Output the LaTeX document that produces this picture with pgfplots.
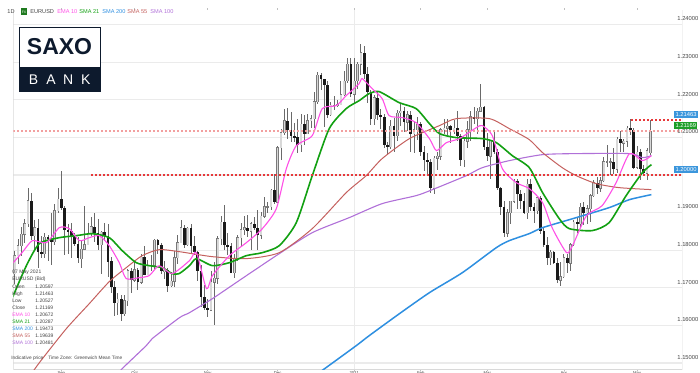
\documentclass[border=0pt]{standalone}
\usepackage{fontspec}
\setmainfont{Liberation Sans}
\usepackage{pgfplots}
\usepackage{pgfplotstable}
\pgfplotsset{compat=1.18}

\definecolor{emac}{HTML}{FF4FE6}
\definecolor{sma21c}{HTML}{12A012}
\definecolor{sma200c}{HTML}{2E8FE0}
\definecolor{sma55c}{HTML}{C4605E}
\definecolor{sma100c}{HTML}{B070D8}
\definecolor{bullfill}{HTML}{D8D8D8}
\definecolor{bulledge}{HTML}{7A7A7A}
\definecolor{bearc}{HTML}{1A1A1A}
\definecolor{wickc}{HTML}{6A6A6A}
\definecolor{gridc}{HTML}{EBEBEB}
\definecolor{txtc}{HTML}{444444}
\definecolor{saxonavy}{HTML}{0D1A2D}
\definecolor{lblblue}{HTML}{3B96DC}
\definecolor{lblgreen}{HTML}{1E9E28}
\definecolor{reddot}{HTML}{E8383A}
\definecolor{pinkdot}{HTML}{F2A0A0}
\definecolor{fxgreen}{HTML}{1F7A1F}

\newcommand{\tkf}{\fontsize{2.9}{3.4}\selectfont}
\newcommand{\lgf}{\fontsize{2.8}{3.3}\selectfont}
\newcommand{\infofont}{\fontsize{2.5}{3}\selectfont}
\newcommand{\btf}{\fontsize{2.4}{2.9}\selectfont}

% index: 0 = 4 Jan 2021 ; columns: open high low close
\pgfplotstableread{
x o h l c
-102 1.1738 1.1799 1.1711 1.1785
-101 1.1785 1.1829 1.1762 1.1812
-100 1.1812 1.1861 1.1784 1.1842
-99 1.1842 1.1883 1.1820 1.1870
-98 1.1870 1.1966 1.1862 1.1931
-97 1.1931 1.1951 1.1828 1.1838
-96 1.1838 1.1880 1.1800 1.1860
-95 1.1860 1.1884 1.1753 1.1795
-94 1.1795 1.1837 1.1780 1.1790
-93 1.1790 1.1845 1.1779 1.1835
-92 1.1835 1.1840 1.1772 1.1830
-91 1.1830 1.1900 1.1762 1.1822
-90 1.1822 1.1922 1.1814 1.1905
-89 1.1905 1.1966 1.1899 1.1935
-88 1.1935 1.2011 1.1906 1.1913
-87 1.1913 1.1917 1.1788 1.1855
-86 1.1855 1.1870 1.1789 1.1850
-85 1.1850 1.1873 1.1780 1.1838
-84 1.1838 1.1846 1.1810 1.1817
-83 1.1817 1.1834 1.1765 1.1778
-82 1.1778 1.1826 1.1753 1.1802
-81 1.1802 1.1917 1.1801 1.1815
-80 1.1815 1.1872 1.1813 1.1845
-79 1.1845 1.1888 1.1838 1.1862
-78 1.1862 1.1900 1.1822 1.1845
-77 1.1845 1.1883 1.1800 1.1815
-76 1.1815 1.1850 1.1737 1.1848
-75 1.1848 1.1872 1.1825 1.1838
-74 1.1838 1.1869 1.1730 1.1770
-73 1.1770 1.1782 1.1685 1.1702
-72 1.1702 1.1718 1.1626 1.1660
-71 1.1660 1.1687 1.1627 1.1670
-70 1.1670 1.1681 1.1612 1.1631
-69 1.1631 1.1682 1.1625 1.1665
-68 1.1665 1.1750 1.1653 1.1745
-67 1.1745 1.1754 1.1685 1.1720
-66 1.1720 1.1770 1.1715 1.1748
-65 1.1748 1.1752 1.1695 1.1715
-64 1.1715 1.1791 1.1709 1.1782
-63 1.1782 1.1810 1.1735 1.1735
-62 1.1735 1.1774 1.1735 1.1760
-61 1.1760 1.1787 1.1745 1.1760
-60 1.1760 1.1831 1.1750 1.1826
-59 1.1826 1.1830 1.1790 1.1815
-58 1.1815 1.1820 1.1737 1.1745
-57 1.1745 1.1772 1.1723 1.1747
-56 1.1747 1.1753 1.1689 1.1706
-55 1.1706 1.1741 1.1702 1.1718
-54 1.1718 1.1797 1.1703 1.1780
-53 1.1780 1.1840 1.1763 1.1820
-52 1.1820 1.1881 1.1818 1.1860
-51 1.1860 1.1867 1.1805 1.1815
-50 1.1815 1.1861 1.1812 1.1859
-49 1.1859 1.1870 1.1790 1.1812
-48 1.1812 1.1838 1.1786 1.1795
-47 1.1795 1.1797 1.1718 1.1745
-46 1.1745 1.1761 1.1650 1.1675
-45 1.1675 1.1707 1.1640 1.1645
-44 1.1645 1.1671 1.1622 1.1640
-43 1.1640 1.1746 1.1638 1.1715
-42 1.1715 1.1769 1.1602 1.1725
-41 1.1725 1.1839 1.1710 1.1830
-40 1.1830 1.1891 1.1813 1.1875
-39 1.1875 1.1920 1.1801 1.1815
-38 1.1815 1.1846 1.1786 1.1810
-37 1.1810 1.1820 1.1745 1.1740
-36 1.1740 1.1790 1.1725 1.1777
-35 1.1777 1.1840 1.1770 1.1833
-34 1.1833 1.1873 1.1808 1.1855
-33 1.1855 1.1890 1.1840 1.1860
-32 1.1860 1.1893 1.1836 1.1850
-31 1.1850 1.1875 1.1800 1.1870
-30 1.1870 1.1889 1.1854 1.1860
-29 1.1860 1.1906 1.1801 1.1840
-28 1.1840 1.1901 1.1829 1.1890
-27 1.1890 1.1942 1.1886 1.1915
-26 1.1915 1.1929 1.1898 1.1915
-25 1.1915 1.1964 1.1906 1.1960
-24 1.1960 1.2004 1.1924 1.1928
-23 1.1928 1.2078 1.1925 1.2072
-22 1.2072 1.2122 1.2040 1.2112
-21 1.2112 1.2176 1.2106 1.2145
-20 1.2145 1.2177 1.2095 1.2120
-19 1.2120 1.2167 1.2088 1.2105
-18 1.2105 1.2138 1.2088 1.2100
-17 1.2100 1.2148 1.2058 1.2080
-16 1.2080 1.2163 1.2060 1.2135
-15 1.2135 1.2160 1.2081 1.2110
-14 1.2110 1.2163 1.2110 1.2145
-13 1.2145 1.2160 1.2125 1.2150
-12 1.2150 1.2221 1.2126 1.2195
-11 1.2195 1.2273 1.2190 1.2265
-10 1.2265 1.2272 1.2227 1.2255
-9 1.2255 1.2256 1.2129 1.2240
-8 1.2240 1.2250 1.2152 1.2160
-7 1.2160 1.2195 1.2156 1.2185
-6 1.2185 1.2210 1.2173 1.2185
-5 1.2185 1.2200 1.2180 1.2187
-4 1.2187 1.2250 1.2185 1.2213
-3 1.2213 1.2276 1.2209 1.2250
-2 1.2250 1.2311 1.2244 1.2295
-1 1.2295 1.2310 1.2208 1.2215
0 1.2215 1.2310 1.2190 1.2250
1 1.2250 1.2301 1.2228 1.2295
2 1.2295 1.2349 1.2265 1.2325
3 1.2325 1.2342 1.2255 1.2270
4 1.2270 1.2288 1.2192 1.2220
5 1.2220 1.2226 1.2133 1.2150
6 1.2150 1.2214 1.2132 1.2205
7 1.2205 1.2220 1.2147 1.2160
8 1.2160 1.2175 1.2123 1.2155
9 1.2155 1.2162 1.2071 1.2080
10 1.2080 1.2089 1.2054 1.2075
11 1.2075 1.2145 1.2069 1.2130
12 1.2130 1.2152 1.2062 1.2105
13 1.2105 1.2173 1.2090 1.2165
14 1.2165 1.2190 1.2130 1.2170
15 1.2170 1.2180 1.2115 1.2140
16 1.2140 1.2170 1.2118 1.2160
17 1.2160 1.2170 1.2060 1.2110
18 1.2110 1.2141 1.2058 1.2120
19 1.2120 1.2155 1.2094 1.2135
20 1.2135 1.2140 1.2050 1.2060
21 1.2060 1.2076 1.2010 1.2040
22 1.2040 1.2059 1.2003 1.2035
23 1.2035 1.2042 1.1953 1.1965
24 1.1965 1.2050 1.1950 1.2045
25 1.2045 1.2060 1.2012 1.2050
26 1.2050 1.2126 1.2039 1.2120
27 1.2120 1.2150 1.2109 1.2125
28 1.2125 1.2150 1.2106 1.2130
29 1.2130 1.2134 1.2084 1.2120
30 1.2120 1.2146 1.2110 1.2125
31 1.2125 1.2169 1.2090 1.2105
32 1.2105 1.2109 1.2023 1.2040
33 1.2040 1.2098 1.2022 1.2090
34 1.2090 1.2143 1.2072 1.2120
35 1.2120 1.2169 1.2090 1.2155
36 1.2155 1.2180 1.2135 1.2150
37 1.2150 1.2178 1.2110 1.2170
38 1.2170 1.2243 1.2167 1.2180
39 1.2180 1.2183 1.2066 1.2075
40 1.2075 1.2113 1.2037 1.2050
41 1.2050 1.2093 1.1990 1.2090
42 1.2090 1.2114 1.2055 1.2060
43 1.2060 1.2068 1.1960 1.1965
44 1.1965 1.1968 1.1893 1.1915
45 1.1915 1.1931 1.1836 1.1845
46 1.1845 1.1910 1.1835 1.1900
47 1.1900 1.1929 1.1870 1.1930
48 1.1930 1.1990 1.1925 1.1985
49 1.1985 1.1990 1.1910 1.1950
50 1.1950 1.1960 1.1911 1.1930
51 1.1930 1.1952 1.1897 1.1900
52 1.1900 1.1989 1.1883 1.1975
53 1.1975 1.1990 1.1904 1.1915
54 1.1915 1.1925 1.1873 1.1905
55 1.1905 1.1942 1.1895 1.1940
56 1.1940 1.1944 1.1843 1.1850
57 1.1850 1.1858 1.1809 1.1815
58 1.1815 1.1836 1.1762 1.1780
59 1.1780 1.1800 1.1760 1.1795
60 1.1795 1.1799 1.1763 1.1765
61 1.1765 1.1780 1.1713 1.1720
62 1.1720 1.1770 1.1704 1.1730
63 1.1730 1.1790 1.1725 1.1780
64 1.1780 1.1790 1.1740 1.1765
65 1.1765 1.1820 1.1745 1.1815
66 1.1815 1.1880 1.1810 1.1875
67 1.1875 1.1888 1.1846 1.1870
68 1.1870 1.1925 1.1860 1.1915
69 1.1915 1.1927 1.1868 1.1900
70 1.1900 1.1920 1.1871 1.1910
71 1.1910 1.1950 1.1875 1.1945
72 1.1945 1.1987 1.1942 1.1980
73 1.1980 1.1995 1.1950 1.1965
74 1.1965 1.1994 1.1955 1.1985
75 1.1985 1.2048 1.1982 1.2035
76 1.2035 1.2080 1.2021 1.2035
77 1.2035 1.2046 1.2000 1.2035
78 1.2035 1.2071 1.2002 1.2015
79 1.2015 1.2100 1.2006 1.2095
80 1.2095 1.2117 1.2060 1.2085
81 1.2085 1.2096 1.2060 1.2090
82 1.2090 1.2130 1.2074 1.2125
83 1.2125 1.2150 1.2107 1.2120
84 1.2120 1.2125 1.2015 1.2020
85 1.2020 1.2077 1.2015 1.2060
86 1.2060 1.2069 1.1986 1.2015
87 1.2015 1.2027 1.1998 1.2005
88 1.2005 1.2072 1.1986 1.2065
89 1.20597 1.21463 1.20527 1.21169
}\candles

\begin{document}
\begin{tikzpicture}[x=0.5pt,y=0.5pt]
\useasboundingbox (0,0) rectangle (700,373);
\begin{axis}[
  at={(4,9)}, anchor=south west,
  scale only axis, width=334.5pt, height=180pt,
  xmin=-102.43, xmax=98.59, ymin=1.148245, ymax=1.24399,
  axis line style={draw=none},
  ytick={1.15,1.16,1.17,1.18,1.19,1.20,1.21,1.22,1.23,1.24},
  yticklabels={},
  ytick style={draw=none},
  ymajorgrids, grid style={gridc, line width=0.6pt},
  xtick={-88,-66,-44,-23,0,20,40,63,85},
  xticklabels={Sep,Oct,Nov,Dec,2021,Feb,Mar,Apr,May},
  xticklabel style={font=\fontsize{2.1}{2.4}\selectfont, text=txtc, inner sep=0pt, yshift=-0.3pt},
  xtick style={draw=gray!50, line width=0.3pt},
  tick align=outside, major tick length=0.6pt,
  extra x ticks={0}, extra x tick labels={},
  extra x tick style={xmajorgrids=true, grid style={gridc, line width=0.6pt}, major tick length=0pt},
  clip=true,
]
% frame
\draw[gray!30, line width=0.5pt] (rel axis cs:0,1) -- (rel axis cs:0,0) -- (rel axis cs:1,0) -- (rel axis cs:1,1);

% wicks
\addplot[draw=none, mark=none, forget plot,
  error bars/.cd, y dir=both, y explicit, error mark=none,
  error bar style={solid, line width=0.42pt, draw=wickc}]
  table[x=x, y expr={(\thisrow{h}+\thisrow{l})/2}, y error expr={(\thisrow{h}-\thisrow{l})/2}] {\candles};
% bull bodies (edge)
\addplot[draw=none, mark=none, forget plot,
  restrict expr to domain={\thisrow{c}-\thisrow{o}}{0:1},
  error bars/.cd, y dir=both, y explicit, error mark=none,
  error bar style={solid, line width=1.35pt, draw=bulledge}]
  table[x=x, y expr={(\thisrow{o}+\thisrow{c})/2}, y error expr={abs(\thisrow{c}-\thisrow{o})/2+0.00013}] {\candles};
% bull bodies (fill)
\addplot[draw=none, mark=none, forget plot,
  restrict expr to domain={\thisrow{c}-\thisrow{o}}{0:1},
  error bars/.cd, y dir=both, y explicit, error mark=none,
  error bar style={solid, line width=0.8pt, draw=bullfill}]
  table[x=x, y expr={(\thisrow{o}+\thisrow{c})/2}, y error expr={abs(\thisrow{c}-\thisrow{o})/2}] {\candles};
% bear bodies
\addplot[draw=none, mark=none, forget plot,
  restrict expr to domain={\thisrow{c}-\thisrow{o}}{-1:-0.00001},
  error bars/.cd, y dir=both, y explicit, error mark=none,
  error bar style={solid, line width=1.35pt, draw=bearc}]
  table[x=x, y expr={(\thisrow{o}+\thisrow{c})/2}, y error expr={max(abs(\thisrow{c}-\thisrow{o})/2,0.00013)}] {\candles};

% SMA 200
\addplot[sma200c, line width=0.75pt, smooth, tension=0.4, mark=none] coordinates {
(-13.5,1.14557) (-9.3,1.14823) (0.6,1.15461) (4.5,1.15727) (13.6,1.16313) (22.6,1.16871)
(32.5,1.17403) (42.7,1.18068) (46.6,1.18254) (52.6,1.18441) (56.6,1.18600) (66.7,1.18866)
(76.6,1.19132) (82.7,1.19345) (89.3,1.19478)};
% SMA 100
\addplot[sma100c, line width=0.55pt, smooth, tension=0.4, mark=none] coordinates {
(-72.1,1.14557) (-70.0,1.14823) (-62.5,1.15461) (-60.7,1.15648) (-52.5,1.16206) (-49.5,1.16339)
(-42.6,1.16712) (-32.4,1.17323) (-22.5,1.17909) (-12.6,1.18467) (-1.5,1.18866) (8.4,1.19239)
(18.6,1.19451) (23.5,1.19611) (33.7,1.19983) (38.5,1.20196) (46.6,1.20382) (56.6,1.20542)
(66.8,1.20569) (82.7,1.20569) (86.6,1.20462) (89.3,1.20515)};
% SMA 55
\addplot[sma55c, line width=0.5pt, smooth, tension=0.4, mark=none] coordinates {
(-98.2,1.14557) (-94.6,1.15009) (-86.5,1.15914) (-79.6,1.16579) (-73.6,1.17164) (-68.5,1.17536)
(-63.7,1.17855) (-58.6,1.18015) (-52.6,1.17962) (-42.7,1.17829) (-32.4,1.17776) (-22.5,1.17935)
(-12.6,1.18574) (-2.4,1.19531) (3.6,1.19983) (8.4,1.20436) (16.6,1.20968) (25.6,1.21313)
(30.7,1.21500) (40.6,1.21500) (46.6,1.21234) (52.6,1.20941) (56.6,1.20595) (62.5,1.20196)
(66.7,1.19983) (72.7,1.19771) (79.6,1.19664) (89.3,1.19611)};
% SMA 21
\addplot[sma21c, line width=0.8pt, smooth, tension=0.4, mark=none] coordinates {
(-102.7,1.16738) (-98.5,1.17589) (-94.6,1.18175) (-88.6,1.18334) (-83.5,1.18387) (-78.7,1.18440)
(-73.6,1.18334) (-69.7,1.17988) (-65.5,1.17669) (-61.6,1.17589) (-57.7,1.17536) (-54.7,1.17377)
(-52.6,1.17377) (-49.5,1.17589) (-47.4,1.17776) (-42.6,1.17589) (-37.5,1.17669) (-32.4,1.17855)
(-27.6,1.17935) (-22.5,1.18121) (-17.4,1.18733) (-12.6,1.19983) (-7.5,1.21234) (-2.4,1.21766)
(1.5,1.21978) (4.5,1.22165) (7.5,1.22218) (13.5,1.21925) (18.6,1.21766) (22.6,1.21367)
(25.6,1.21101) (30.7,1.20994) (38.5,1.20968) (42.7,1.20861) (47.5,1.20515) (52.6,1.20196)
(56.6,1.19531) (61.6,1.18840) (64.6,1.18574) (71.5,1.18521) (76.6,1.18733) (81.7,1.19451)
(86.6,1.20063) (89.3,1.20276)};
% EMA 10
\addplot[emac, line width=0.55pt, smooth, tension=0.4, mark=none] coordinates {
(-102.7,1.17643) (-99.8,1.17935) (-96.7,1.18254) (-92.5,1.18201) (-88.6,1.18600) (-85.6,1.18573)
(-82.6,1.18254) (-79.6,1.18334) (-76.6,1.18387) (-73.6,1.18121) (-70.6,1.17669) (-68.5,1.17244)
(-64.6,1.17270) (-61.6,1.17323) (-58.6,1.17589) (-54.7,1.17377) (-49.5,1.17722) (-47.4,1.17935)
(-44.4,1.16978) (-42.6,1.17323) (-37.5,1.17855) (-32.4,1.18201) (-27.6,1.18574) (-23.4,1.19106)
(-20.4,1.20170) (-17.4,1.20781) (-12.6,1.21047) (-9.6,1.21766) (-5.4,1.21846) (-2.4,1.22111)
(1.5,1.22431) (2.4,1.22564) (5.4,1.22298) (8.4,1.22032) (10.5,1.21579) (14.5,1.21526)
(18.6,1.21393) (22.6,1.20968) (24.7,1.20648) (27.7,1.20861) (31.6,1.20968) (36.7,1.21260)
(38.5,1.21313) (41.5,1.21047) (44.5,1.20170) (48.7,1.19797) (52.6,1.19638) (56.6,1.19265)
(59.6,1.18574) (63.8,1.17935) (65.6,1.18121) (69.8,1.18919) (74.5,1.19185) (78.7,1.19797)
(82.7,1.20569) (86.6,1.20382) (89.3,1.20515)};

% price levels
\addplot[pinkdot, line width=0.7pt, dash pattern=on 1pt off 1pt, mark=none] coordinates {(-102.43,1.21169) (98.59,1.21169)};
\addplot[reddot, line width=0.9pt, dash pattern=on 1pt off 1pt, mark=none] coordinates {(-79,1.20000) (98.59,1.20000)};
\addplot[reddot, line width=0.7pt, dash pattern=on 1pt off 1pt, mark=none] coordinates {(83.3,1.21463) (98.59,1.21463)};
\end{axis}

% right-hand price scale (y = 354 - (1.24 - v)*3760)
\foreach \yy/\lab in {354/1.24000, 316.4/1.23000, 278.8/1.22000, 241.2/1.21000, 203.6/1.20000,
  166/1.19000, 128.4/1.18000, 90.8/1.17000, 53.2/1.16000, 15.6/1.15000}
  \node[anchor=west, inner sep=0, text=txtc] at (677,\yy) {\tkf \lab};

% right-hand price labels
\node[fill=lblblue, text=white, inner xsep=0.6pt, inner ysep=0.7pt, anchor=west] at (674,258.6) {\tkf 1.21463};
\node[fill=lblgreen, text=white, inner xsep=0.6pt, inner ysep=0.7pt, anchor=west] at (674,247.6) {\tkf 1.21169};
\node[fill=lblblue, text=white, inner xsep=0.6pt, inner ysep=0.7pt, anchor=west] at (674,203.6) {\tkf 1.20000};

% top legend row
\node[anchor=west, inner sep=0, text=txtc] at (7,361) {\lgf 1D};
\fill[fxgreen] (21,364.5) rectangle (27,357.5);
\node[text=white, inner sep=0] at (24,361) {\fontsize{1.7}{2}\selectfont FX};
\node[anchor=west, inner sep=0, text=txtc] at (30,361) {\lgf EURUSD};
\node[anchor=west, inner sep=0, text=emac] at (57,361) {\lgf EMA 10};
\node[anchor=west, inner sep=0, text=sma21c] at (79,361) {\lgf SMA 21};
\node[anchor=west, inner sep=0, text=sma200c] at (102,361) {\lgf SMA 200};
\node[anchor=west, inner sep=0, text=sma55c] at (127,361) {\lgf SMA 55};
\node[anchor=west, inner sep=0, text=sma100c] at (150,361) {\lgf SMA 100};

% logo
\draw[saxonavy, line width=0.5pt, fill=white] (19,345) rectangle (100,281);
\fill[saxonavy] (19,306) rectangle (100,281);
\node[text=saxonavy, inner sep=0] at (59.5,326) {\fontsize{11.5}{12}\selectfont\bfseries SAXO};
\node[text=white, inner sep=0] at (33.5,293) {\fontsize{7}{8}\selectfont B};
\node[text=white, inner sep=0] at (51,293) {\fontsize{7}{8}\selectfont A};
\node[text=white, inner sep=0] at (68.3,293) {\fontsize{7}{8}\selectfont N};
\node[text=white, inner sep=0] at (85.8,293) {\fontsize{7}{8}\selectfont K};

% info box
\node[anchor=west, inner sep=0, text=txtc] at (12,101) {\infofont 07 May 2021};
\node[anchor=west, inner sep=0, text=txtc] at (12,94) {\infofont EURUSD (Bid)};
\node[anchor=west, inner sep=0, text=txtc] at (12,86) {\infofont Open};
\node[anchor=west, inner sep=0, text=txtc] at (35,86) {\infofont 1.20597};
\node[anchor=west, inner sep=0, text=txtc] at (12,79) {\infofont High};
\node[anchor=west, inner sep=0, text=txtc] at (35,79) {\infofont 1.21463};
\node[anchor=west, inner sep=0, text=txtc] at (12,72) {\infofont Low};
\node[anchor=west, inner sep=0, text=txtc] at (35,72) {\infofont 1.20527};
\node[anchor=west, inner sep=0, text=txtc] at (12,65) {\infofont Close};
\node[anchor=west, inner sep=0, text=txtc] at (35,65) {\infofont 1.21169};
\node[anchor=west, inner sep=0, text=emac] at (12,58) {\infofont EMA 10};
\node[anchor=west, inner sep=0, text=txtc] at (35,58) {\infofont 1.20672};
\node[anchor=west, inner sep=0, text=sma21c] at (12,51) {\infofont SMA 21};
\node[anchor=west, inner sep=0, text=txtc] at (35,51) {\infofont 1.20287};
\node[anchor=west, inner sep=0, text=sma200c] at (12,44) {\infofont SMA 200};
\node[anchor=west, inner sep=0, text=txtc] at (35,44) {\infofont 1.19473};
\node[anchor=west, inner sep=0, text=sma55c] at (12,37) {\infofont SMA 55};
\node[anchor=west, inner sep=0, text=txtc] at (35,37) {\infofont 1.19639};
\node[anchor=west, inner sep=0, text=sma100c] at (12,30) {\infofont SMA 100};
\node[anchor=west, inner sep=0, text=txtc] at (35,30) {\infofont 1.20481};

\node[anchor=west, inner sep=0, text=txtc] at (11,15) {\btf Indicative price};
\node[anchor=west, inner sep=0, text=txtc] at (48,15) {\btf Time Zone: Greenwich Mean Time};
\end{tikzpicture}
\end{document}
